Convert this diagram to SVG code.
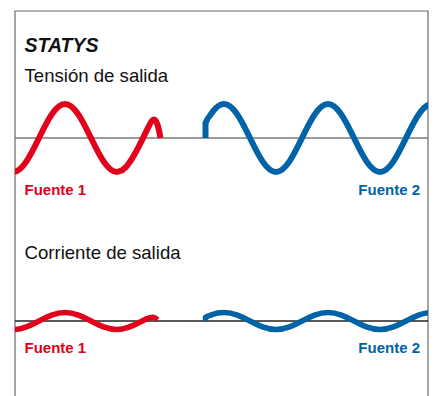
<svg xmlns="http://www.w3.org/2000/svg" width="434" height="396" viewBox="0 0 434 396">
  <style>
    .frame{fill:none;stroke:#6b6b6b;stroke-width:1.2}
    .axisV{fill:none;stroke:#7a7a7a;stroke-width:1.3}
    .axisI{fill:none;stroke:#222;stroke-width:1.3}
    .red{fill:none;stroke:#e2001a;stroke-linejoin:round;stroke-linecap:butt}
    .blue{fill:none;stroke:#0063a7;stroke-linejoin:round;stroke-linecap:butt}
    .v{stroke-width:6}
    .i{stroke-width:5.5}
    .title{font-family:"Liberation Sans",Arial,sans-serif;font-weight:bold;font-style:italic;font-size:19.5px;fill:#111}
    .head{font-family:"Liberation Sans",Arial,sans-serif;font-size:18.6px;fill:#111}
    .lbl{font-family:"Liberation Sans",Arial,sans-serif;font-weight:bold;font-size:15px}
    .lr{fill:#e2001a}
    .lb{fill:#0063a7;text-anchor:end}
  </style>
  <defs>
    <clipPath id="clip"><rect x="15" y="0" width="413" height="396"/></clipPath>
  </defs>
  <g id="frame">
    <path class="frame" d="M15,396 V11 H428 V396"/>
  </g>
  <g id="title">
    <text class="title" x="24.5" y="52">STATYS</text>
  </g>
  <g id="voltage">
    <text class="head" x="24.5" y="81.5">Tensión de salida</text>
    <line class="axisV" x1="15" y1="138" x2="428" y2="138"/>
    <g clip-path="url(#clip)">
      <path id="v-fuente1" class="red v" d="M13,172 C31.9,172 46.1,104 65,104 C83.9,104 98.1,172 117,172 L122,170.4 L127,165.9 L132,158.7 L137,150 L142,140.1 L147,129.9 L150,124 C151.5,121 152.5,119.5 154,119.5 C156.5,119.5 158.3,126 160.5,138"/>
      <path id="v-fuente2" class="blue v" d="M205.5,138 L205.5,123.1 C207,119 208.5,117 210,115.5 C212,112.5 213.5,110.2 215,108.9 C217,107 218.5,105.5 220,105 C221.5,104.4 222.5,104 224,104 C242.9,104 257.1,172 276,172 C294.9,172 309.1,104 328,104 C346.9,104 361.1,172 380,172 C398.9,172 413.1,104 432,104"/>
    </g>
    <text class="lbl lr" x="24.5" y="195">Fuente 1</text>
    <text class="lbl lb" x="420" y="195">Fuente 2</text>
  </g>
  <g id="current">
    <text class="head" x="24.5" y="259">Corriente de salida</text>
    <line class="axisI" x1="15" y1="321" x2="428" y2="321"/>
    <g clip-path="url(#clip)">
      <path id="i-fuente1" class="red i" d="M13,329.5 C31.9,329.5 46.1,312.5 65,312.5 C83.9,312.5 98.1,329.5 117,329.5 C128,329.5 138,323 146,319 C149.5,317.5 151.5,317 153,317.2 C154.8,317.5 156,318.4 157.5,319.8"/>
      <path id="i-fuente2" class="blue i" d="M205.5,321 L205.5,317.3 C207,316.3 208.5,315.8 210,315.4 C212,314.6 213.5,314 215,313.7 C217,313.1 218.5,312.8 220,312.7 C221.5,312.6 222.5,312.5 224,312.5 C242.9,312.5 257.1,329.5 276,329.5 C294.9,329.5 309.1,312.5 328,312.5 C346.9,312.5 361.1,329.5 380,329.5 C398.9,329.5 413.1,312.5 432,312.5"/>
    </g>
    <text class="lbl lr" x="24.5" y="352.5">Fuente 1</text>
    <text class="lbl lb" x="420" y="352.5">Fuente 2</text>
  </g>
</svg>
